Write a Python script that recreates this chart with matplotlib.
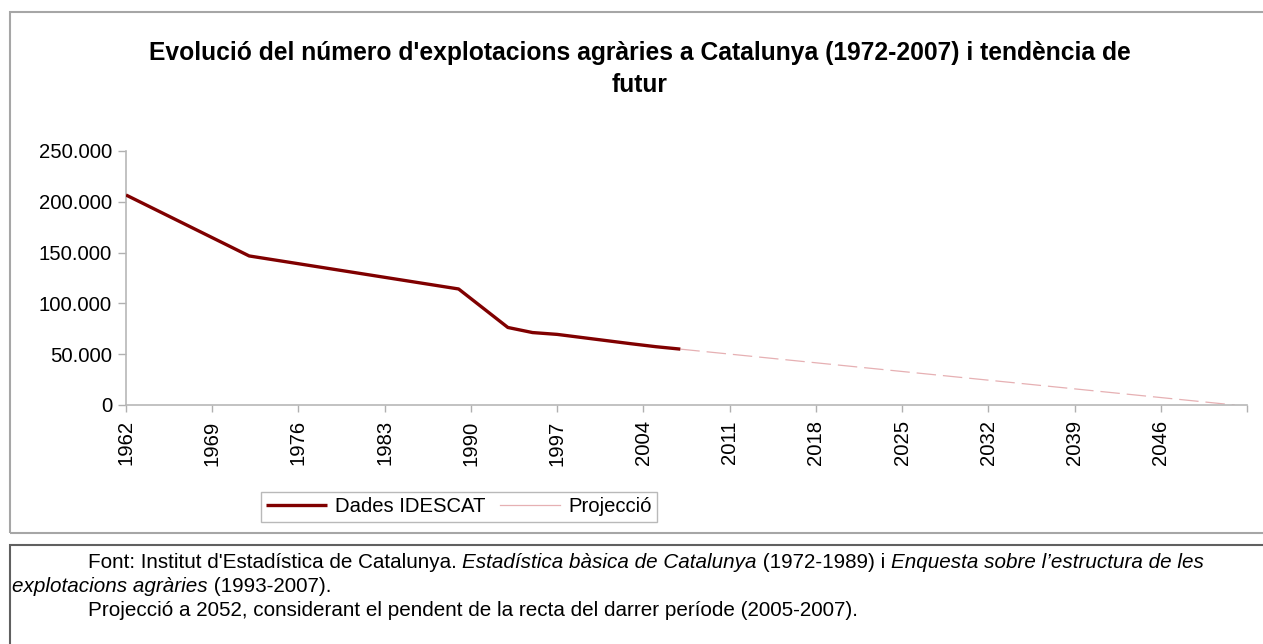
import matplotlib
matplotlib.use("Agg")
import matplotlib.pyplot as plt
from matplotlib.patches import Rectangle
from matplotlib.ticker import FuncFormatter, FixedLocator

plt.rcParams["font.family"] = ["Liberation Sans", "DejaVu Sans"]
plt.rcParams["lines.scale_dashes"] = False

# data
data_years = [1962, 1972, 1989, 1993, 1995, 1997, 2003, 2005, 2007]
data_values = [206700, 146700, 114200, 76300, 71300, 69500, 60300, 57400, 55000]
proj_years = [2007, 2052]
proj_values = [55000, 0]
tick_years = list(range(1962, 2047, 7))
y_ticks = [0, 50000, 100000, 150000, 200000, 250000]

title = "Evolució del número d'explotacions agràries a Catalunya (1972-2007) i tendència de\nfutur"
caption_lines = [
    (88, 562, [("Font: Institut d'Estadística de Catalunya. ", "normal"),
               ("Estadística bàsica de Catalunya", "italic"),
               (" (1972-1989) i ", "normal"),
               ("Enquesta sobre l’estructura de les", "italic")]),
    (12, 586, [("explotacions agràries", "italic"), (" (1993-2007).", "normal")]),
    (88, 611, [("Projecció a 2052, considerant el pendent de la recta del darrer període (2005-2007).", "normal")]),
]

W, H = 1263, 644
FS = 14.6
fig = plt.figure(figsize=(W / 100, H / 100), dpi=100)

# frames around chart and caption
fig.patches.append(Rectangle((10 / W, 1 - 533 / H), 1.0, (533 - 12) / H, transform=fig.transFigure,
                             fill=False, edgecolor="#a6a6a6", linewidth=1.5))
fig.patches.append(Rectangle((10 / W, -0.1), 1.0, 0.1 + (644 - 545) / H, transform=fig.transFigure,
                             fill=False, edgecolor="#606060", linewidth=1.5))

ax = fig.add_axes([126 / W, 1 - 405 / H, (1247 - 126) / W, (405 - 151) / H])
ax.plot(data_years, data_values, color="#800000", linewidth=2.4, solid_capstyle="butt",
        label="Dades IDESCAT", zorder=3)
ax.plot(proj_years, proj_values, color="#e6b0b3", linewidth=0.9, dashes=(14, 5),
        label="Projecció", zorder=2)

ax.set_xlim(1962, 2053)
ax.set_ylim(0, 250000)
ax.xaxis.set_major_locator(FixedLocator(tick_years + [2053]))
ax.set_xticklabels([str(y) for y in tick_years] + [""], rotation=90, fontsize=FS)
ax.set_yticks(y_ticks)
ax.yaxis.set_major_formatter(FuncFormatter(lambda v, p: f"{int(v):,}".replace(",", ".")))
ax.tick_params(axis="y", labelsize=FS, length=6, color="#b0b0b0", width=1, pad=4)
ax.tick_params(axis="x", length=5, color="#b0b0b0", width=1, pad=6)
for s in ["top", "right"]:
    ax.spines[s].set_visible(False)
for s in ["left", "bottom"]:
    ax.spines[s].set_color("#b8b8b8")
    ax.spines[s].set_linewidth(1.2)

fig.text(640 / W, 1 - 69 / H, title, ha="center", va="center", fontsize=17.7, fontweight="bold",
         linespacing=1.42)

leg_handles, leg_labels = ax.get_legend_handles_labels()
leg_proj = plt.Line2D([], [], color="#e6b0b3", linewidth=0.9)
fig.legend([leg_handles[0], leg_proj], leg_labels, loc="center",
           bbox_to_anchor=(459 / W, 1 - 507 / H), ncol=2, fontsize=FS, frameon=True,
           fancybox=False, edgecolor="#a8a8a8", handlelength=3.0, columnspacing=0.7,
           borderpad=0.25, handletextpad=0.4, borderaxespad=0)

fig.canvas.draw()
renderer = fig.canvas.get_renderer()
for x0, y0, parts in caption_lines:
    x = x0
    for txt, style in parts:
        t = fig.text(x / W, 1 - y0 / H, txt, style=style, fontsize=14.85, va="center", ha="left")
        x = t.get_window_extent(renderer).x1

fig.savefig("out.png", dpi=100)
